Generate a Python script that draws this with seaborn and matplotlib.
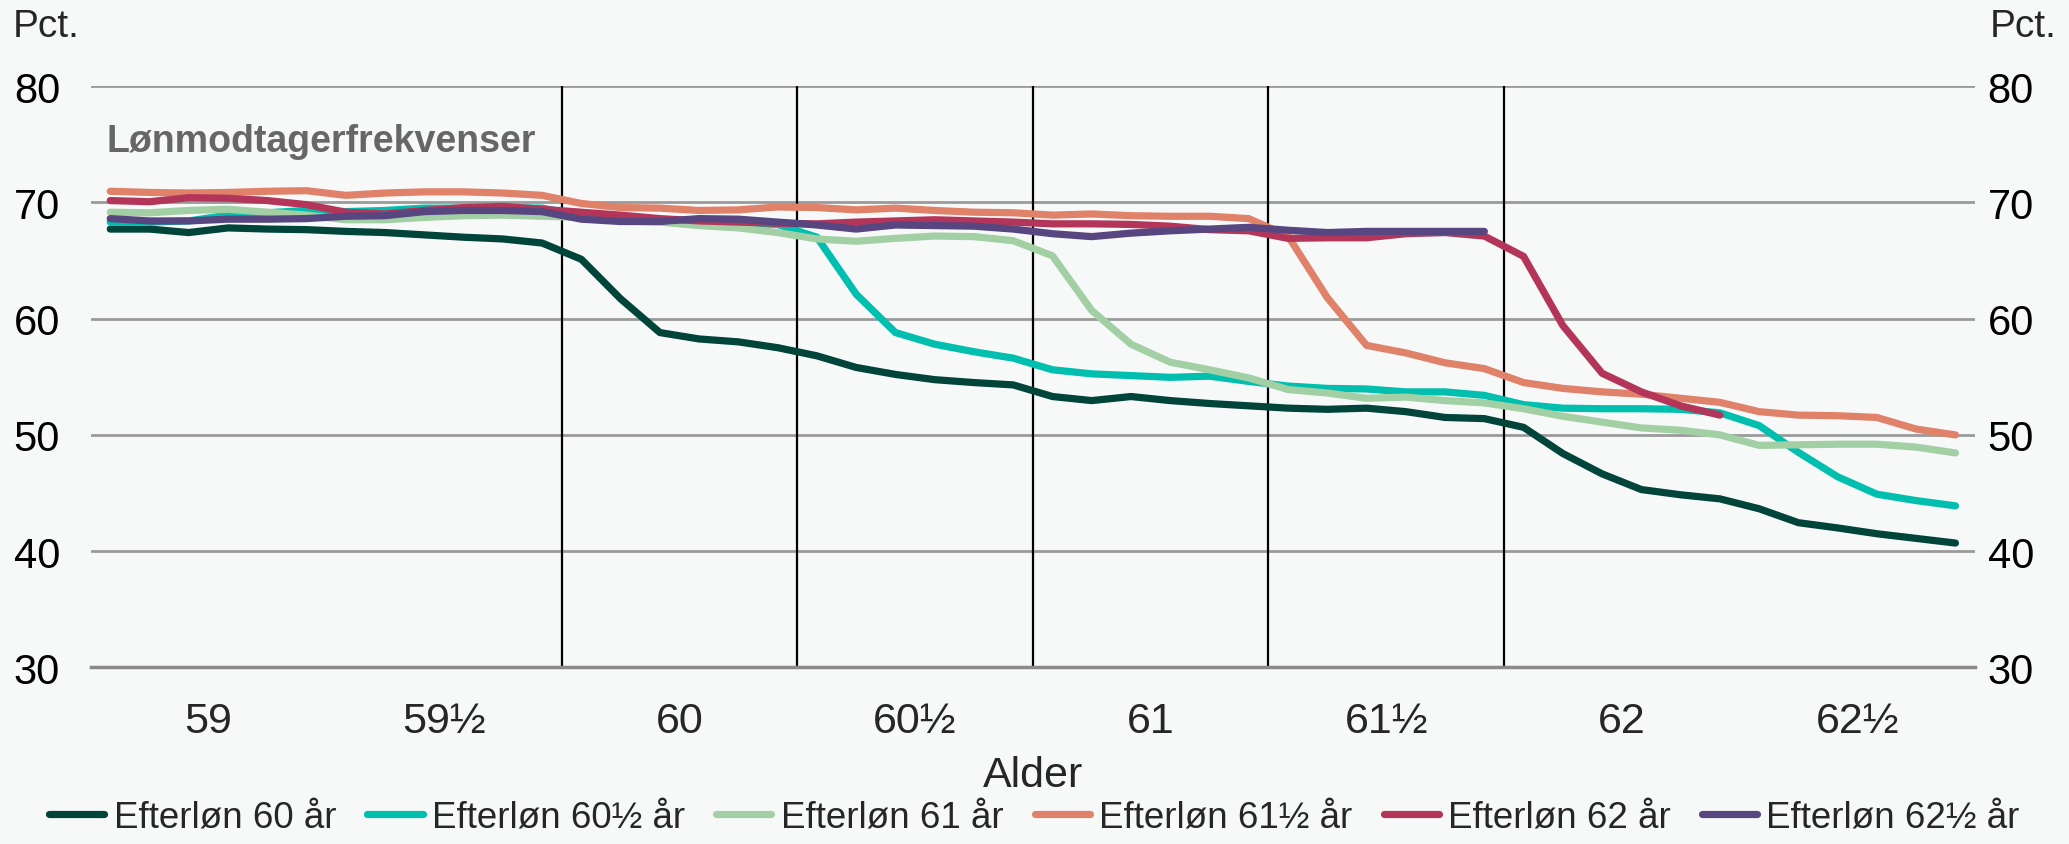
import numpy as np
import pandas as pd
import matplotlib
matplotlib.use("Agg")
import matplotlib.pyplot as plt
import seaborn as sns

# ------------------------------------------------------------
# Data: monthly values (6 per half-year age group)
# ------------------------------------------------------------
alder = ["59", "59½", "60", "60½", "61", "61½", "62", "62½"]

efterloen_60 = [67.7, 67.7, 67.4, 67.8, 67.7, 67.65, 67.5, 67.4, 67.2, 67.0, 66.85, 66.5,
                65.1, 61.7, 58.8, 58.25, 58.0, 57.5, 56.8, 55.8, 55.2, 54.75, 54.5, 54.3,
                53.3, 52.95, 53.3, 52.95, 52.7, 52.5, 52.3, 52.2, 52.3, 52.0, 51.5, 51.4,
                50.65, 48.4, 46.65, 45.3, 44.85, 44.5, 43.65, 42.45, 42.0, 41.5, 41.1, 40.7]
efterloen_60h = [68.3, 68.3, 68.4, 68.9, 69.1, 69.3, 69.2, 69.3, 69.5, 69.5, 69.55, 69.5,
                 68.85, 68.6, 68.4, 68.3, 68.2, 68.1, 67.0, 62.1, 58.8, 57.8, 57.15, 56.6,
                 55.6, 55.25, 55.1, 54.95, 55.05, 54.6, 54.2, 54.0, 53.95, 53.7, 53.7, 53.4,
                 52.6, 52.3, 52.25, 52.25, 52.2, 51.9, 50.8, 48.5, 46.4, 44.9, 44.35, 43.9]
efterloen_61 = [69.15, 69.1, 69.3, 69.4, 69.15, 68.9, 68.5, 68.5, 68.7, 68.85, 68.9, 68.8,
                68.7, 68.4, 68.3, 68.0, 67.8, 67.4, 66.85, 66.65, 66.9, 67.1, 67.05, 66.7,
                65.4, 60.7, 57.8, 56.25, 55.6, 54.9, 53.9, 53.6, 53.15, 53.25, 52.95, 52.75,
                52.25, 51.6, 51.1, 50.6, 50.4, 50.0, 49.1, 49.15, 49.2, 49.2, 48.95, 48.45]
efterloen_61h = [70.95, 70.85, 70.8, 70.85, 70.95, 71.0, 70.6, 70.8, 70.9, 70.9, 70.8, 70.6,
                 69.9, 69.55, 69.5, 69.3, 69.35, 69.6, 69.55, 69.35, 69.5, 69.3, 69.15, 69.1,
                 68.9, 69.0, 68.85, 68.8, 68.8, 68.6, 67.1, 61.8, 57.7, 57.05, 56.2, 55.7,
                 54.5, 54.0, 53.7, 53.5, 53.15, 52.8, 52.0, 51.7, 51.65, 51.5, 50.5, 50.0]
efterloen_62 = [70.15, 70.05, 70.4, 70.35, 70.15, 69.8, 69.15, 69.0, 69.3, 69.55, 69.65, 69.4,
                69.15, 68.9, 68.6, 68.4, 68.3, 68.2, 68.15, 68.3, 68.4, 68.5, 68.4, 68.3,
                68.15, 68.15, 68.1, 67.95, 67.65, 67.55, 66.9, 66.95, 66.95, 67.3, 67.4, 67.1,
                65.35, 59.4, 55.3, 53.7, 52.5, 51.7] + [np.nan] * 6
efterloen_62h = [68.6, 68.4, 68.4, 68.55, 68.55, 68.6, 68.8, 68.85, 69.2, 69.3, 69.3, 69.2,
                 68.55, 68.35, 68.35, 68.6, 68.55, 68.3, 68.05, 67.7, 68.05, 68.0, 67.95, 67.7,
                 67.3, 67.05, 67.35, 67.55, 67.7, 67.85, 67.6, 67.4, 67.5, 67.5, 67.5, 67.5] + [np.nan] * 12

serier = {
    "Efterløn 60 år": efterloen_60,
    "Efterløn 60½ år": efterloen_60h,
    "Efterløn 61 år": efterloen_61,
    "Efterløn 61½ år": efterloen_61h,
    "Efterløn 62 år": efterloen_62,
    "Efterløn 62½ år": efterloen_62h,
}
farver = ["#00443A", "#00BFAE", "#A3CFA5", "#E0826A", "#B3365A", "#574680"]

n_mdr = 6 * len(alder)
maaned = np.arange(n_mdr)
df = pd.concat(
    [pd.DataFrame({"maaned": maaned, "pct": v, "serie": k}) for k, v in serier.items()],
    ignore_index=True,
)

# ------------------------------------------------------------
# Plot
# ------------------------------------------------------------
bg = "#F7F9F9"
sns.set_theme(style="white")
plt.rcParams["font.family"] = ["Liberation Sans", "DejaVu Sans"]

fig = plt.figure(figsize=(20.69, 8.45), dpi=100, facecolor=bg)
ax = fig.add_axes([0.0438, 0.2089, 0.9108, 0.6881])
ax.set_facecolor(bg)

# gridlines
for v in [40, 50, 60, 70, 80]:
    ax.axhline(v, color="#9A9A9A", lw=2, zorder=1)

# vertical separators between age groups (60 .. 62)
graenser = np.arange(len(alder) + 1) * 6 - 0.5
for g in graenser[2:7]:
    ax.axvline(g, color="black", lw=1.6, zorder=1)

sns.lineplot(data=df, x="maaned", y="pct", hue="serie", palette=farver,
             lw=5.2, ax=ax, legend=False, zorder=3)

ax.set_xlim(-0.5, n_mdr - 0.5)
ax.set_ylim(30, 80)
ax.set_yticks([30, 40, 50, 60, 70, 80])
ax.tick_params(axis="y", labelleft=True, length=0, labelsize=30, pad=22, colors="black")

# right-hand axis labels with their own (smaller) pad
ax_h = ax.secondary_yaxis("right")
ax_h.set_yticks([30, 40, 50, 60, 70, 80])
ax_h.tick_params(axis="y", length=0, labelsize=30, pad=9, colors="black")
ax_h.spines["right"].set_visible(False)

ax.set_xticks(graenser)
ax.set_xticklabels([])
ax.set_xticks(np.arange(len(alder)) * 6 + 2.5, minor=True)
ax.set_xticklabels(alder, minor=True)
ax.tick_params(axis="x", which="major", length=13, width=1.2, color="black", direction="out")
ax.tick_params(axis="x", which="minor", length=0, labelsize=31, pad=24)
ax.set_xlabel("Alder", fontsize=31, labelpad=10)
ax.set_ylabel("")

for s in ["top", "left", "right"]:
    ax.spines[s].set_visible(False)
ax.spines["bottom"].set_color("#8A8A8A")
ax.spines["bottom"].set_linewidth(2.5)

ax.text(0.0084, 0.905, "Lønmodtagerfrekvenser", transform=ax.transAxes,
        fontsize=27, fontweight="bold", color="#666666", va="center", ha="left")

fig.text(0.006, 0.968, "Pct.", fontsize=28, ha="left", va="center")
fig.text(0.994, 0.968, "Pct.", fontsize=28, ha="right", va="center")

handles = [plt.Line2D([0], [0], color=c, lw=5.2) for c in farver]
fig.legend(handles, list(serier.keys()), loc="lower center", ncol=6,
           bbox_to_anchor=(0.5, -0.028), frameon=False, fontsize=26.5,
           handlelength=1.5, handletextpad=0.25, columnspacing=0.85)

fig.savefig("out.png", dpi=100, facecolor=bg)
